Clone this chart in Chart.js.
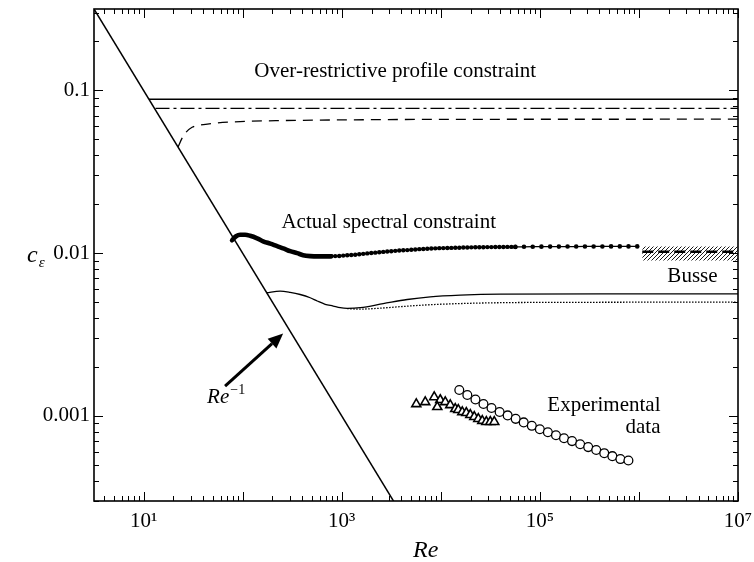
<!DOCTYPE html>
<html><head><meta charset="utf-8">
<script src="https://cdn.jsdelivr.net/npm/chart.js@4.4.0/dist/chart.umd.min.js"></script>
<style>html,body{margin:0;padding:0;background:#fff}#wrap{width:754px;height:562px}</style>
</head><body><div id="wrap"><canvas id="c" width="754" height="562"></canvas></div>
<script>
// ---- tick labels ----
const xTickValues = [1e1, 1e3, 1e5, 1e7];
const xTickLabels = ['10\u00B9', '10\u00B3', '10\u2075', '10\u2077'];
const yTickValues = [0.1, 0.01, 0.001];
const yTickLabels = ['0.1', '0.01', '0.001'];

// ---- Re^-1 line ----
const invRe = [1, 10000];
const invC = [1, 0.0001];

// ---- over-restrictive profile constraint family ----
const overRe = [11.35, 1e7];
const overC = [0.0881, 0.0881];
const dashDotRe = [13.2, 1e7];
const dashDotC = [0.0776, 0.0776];
const dashedRe = [22.3, 24.5, 26.9, 30.9, 37.2, 52.7, 94.4, 239, 1219, 12470, 1e7];
const dashedC = [0.0449, 0.0509, 0.0554, 0.0594, 0.0612, 0.0629, 0.0643, 0.0652, 0.0659, 0.0664, 0.0665];

// ---- actual spectral constraint ----
const specThickRe = [78.3, 85.9, 94.4, 106, 119, 140, 161, 190, 223, 262, 302, 355, 408, 481, 579, 714, 784];
const specThickC = [0.0120, 0.0127, 0.01297, 0.01297, 0.01279, 0.01234, 0.01183, 0.01143, 0.01103, 0.01065, 0.01028, 0.0100, 0.00972, 0.00959, 0.00955, 0.00955, 0.00956];
const specDenseRe = [783, 860, 944, 1036, 1137, 1248, 1369, 1503, 1649, 1810, 1987, 2180, 2393, 2626, 2882, 3163, 3472, 3810, 4182, 4589, 5037, 5528, 6067, 6659, 7308, 8020, 8802, 9661, 10600, 11640, 12770, 14020, 15380, 16880, 18530, 20330, 22320, 24490, 26880, 29500, 32380, 35540, 39000, 42800, 46980, 51560, 56590];
const specDenseC = [0.00956, 0.00959, 0.00961, 0.00966, 0.00970, 0.00974, 0.00978, 0.00985, 0.00990, 0.00996, 0.01001, 0.01007, 0.01013, 0.01018, 0.01024, 0.01028, 0.01033, 0.01037, 0.01041, 0.01044, 0.01049, 0.01053, 0.01058, 0.01061, 0.01064, 0.01067, 0.01070, 0.01073, 0.01074, 0.01076, 0.01077, 0.01079, 0.01080, 0.01082, 0.01083, 0.01085, 0.01086, 0.01088, 0.01088, 0.01089, 0.01089, 0.01091, 0.01091, 0.01091, 0.01092, 0.01092, 0.01092];
const specSparseRe = [56590, 69180, 84720, 103700, 127000, 155600, 190500, 232800, 285100, 349100, 427600, 523600, 641200, 785200, 961600];
const specSparseC = [0.01092, 0.01094, 0.01095, 0.01096, 0.01097, 0.01097, 0.01098, 0.01098, 0.01099, 0.01099, 0.01099, 0.01100, 0.01100, 0.01100, 0.01100];

// ---- lower solid / dotted curves ----
const lowRe = [175, 239, 302, 381, 481, 566, 681, 820, 966, 1137, 1538, 2626, 4588, 7836, 15740, 39900, 408000, 1e7];
const lowC = [0.00571, 0.00584, 0.00574, 0.00557, 0.00532, 0.00508, 0.00485, 0.00473, 0.00462, 0.00458, 0.00462, 0.00489, 0.00519, 0.00539, 0.00552, 0.00560, 0.00562, 0.00562];
const dotRe = [1137, 1538, 2449, 3900, 7836, 15740, 39900, 408000, 9.9e6];
const dotC = [0.00456, 0.00453, 0.00459, 0.00469, 0.00482, 0.00490, 0.00496, 0.00499, 0.00500];

// ---- Busse ----
const busseRe = [1.08e6, 1e7];
const busseUpper = [0.0110, 0.0110];
const busseLower = [0.0090, 0.0090];
const busseMid = [0.0102, 0.0102];

// ---- experimental data ----
const circRe = [15380, 18540, 22390, 26980, 32510, 39260, 47320, 57020, 68710, 82990, 100000, 120500, 145500, 175400, 211300, 255300, 307600, 370700, 446700, 539500, 650100, 783400];
const circC = [0.001442, 0.001343, 0.001262, 0.001183, 0.001119, 0.001057, 0.001007, 0.000959, 0.000912, 0.000869, 0.000828, 0.000793, 0.000760, 0.000729, 0.000700, 0.000670, 0.000643, 0.000617, 0.000590, 0.000566, 0.000543, 0.000532];
const triRe = [5662, 6970, 8590, 9880, 11100, 9220, 12470, 14000, 15030, 16490, 18110, 19870, 21790, 23930, 26240, 28840, 31620, 34670];
const triC = [0.001183, 0.001217, 0.001305, 0.001253, 0.001217, 0.001135, 0.001167, 0.001104, 0.001089, 0.001057, 0.001043, 0.001014, 0.000986, 0.000959, 0.000933, 0.000919, 0.000919, 0.000919];

const pts = (xs, ys) => xs.map((x, i) => ({x: x, y: ys[i]}));

const canvas = document.getElementById('c');
const ctx0 = canvas.getContext('2d');
function makeHatch() {
  const c = document.createElement('canvas');
  c.width = 4; c.height = 4;
  const g = c.getContext('2d');
  g.strokeStyle = '#000'; g.lineWidth = 0.9;
  g.beginPath();
  g.moveTo(0, 4); g.lineTo(4, 0);
  g.moveTo(-1, 1); g.lineTo(1, -1);
  g.moveTo(3, 5); g.lineTo(5, 3);
  g.stroke();
  return ctx0.createPattern(c, 'repeat');
}
const hatch = makeHatch();

const SERIF = '"Liberation Serif", "Times New Roman", serif';

const lineDs = (label, xs, ys, extra) => Object.assign({
  label: label, data: pts(xs, ys), showLine: true, borderColor: '#000',
  backgroundColor: '#000', borderWidth: 1.4, pointRadius: 0, pointHoverRadius: 0, fill: false
}, extra || {});

const decor = {
  id: 'decor',
  afterDraw(chart) {
    const ctx = chart.ctx, xs = chart.scales.x, ys = chart.scales.y, a = chart.chartArea;
    ctx.save();
    ctx.strokeStyle = '#000';
    // inward ticks
    ctx.lineWidth = 1;
    for (let k = 0; k <= 7; k++) {
      for (let m = 1; m <= 9; m++) {
        const v = m * Math.pow(10, k);
        if (v < xs.min || v > xs.max) continue;
        const px = Math.round(xs.getPixelForValue(v)) + 0.5;
        const len = m === 1 ? 9 : 5;
        ctx.beginPath();
        ctx.moveTo(px, a.bottom); ctx.lineTo(px, a.bottom - len);
        ctx.moveTo(px, a.top); ctx.lineTo(px, a.top + len);
        ctx.stroke();
      }
    }
    for (let k = -4; k <= 0; k++) {
      for (let m = 1; m <= 9; m++) {
        const v = m * Math.pow(10, k);
        if (v < ys.min || v > ys.max) continue;
        const py = Math.round(ys.getPixelForValue(v)) + 0.5;
        const len = m === 1 ? 9 : 5;
        ctx.beginPath();
        ctx.moveTo(a.left, py); ctx.lineTo(a.left + len, py);
        ctx.moveTo(a.right, py); ctx.lineTo(a.right - len, py);
        ctx.stroke();
      }
    }
    // frame
    ctx.lineWidth = 1.6;
    ctx.strokeRect(a.left, a.top, a.right - a.left, a.bottom - a.top);

    // text helper
    ctx.fillStyle = '#000';
    ctx.textBaseline = 'alphabetic';
    const txt = (s, re, c, align, font) => {
      ctx.font = font; ctx.textAlign = align;
      ctx.fillText(s, xs.getPixelForValue(re), ys.getPixelForValue(c));
    };
    const f21 = '21px ' + SERIF;
    txt('Over-restrictive profile constraint', 3470, 0.12, 'center', f21);
    txt('Actual spectral constraint', 2985, 0.0143, 'center', f21);
    txt('Busse', 3.47e6, 0.00665, 'center', f21);
    txt('Experimental', 1.65e6, 0.001072, 'right', f21);
    txt('data', 1.65e6, 0.000787, 'right', f21);

    // Re^-1 label
    const rx = xs.getPixelForValue(43.8), ry = ys.getPixelForValue(0.0012);
    ctx.textAlign = 'left';
    ctx.font = 'italic 21px ' + SERIF;
    ctx.fillText('Re', rx, ry);
    const rw = ctx.measureText('Re').width;
    ctx.font = '14px ' + SERIF;
    ctx.fillText('\u22121', rx + rw + 1, ry - 9);

    // arrow
    const tx = xs.getPixelForValue(66.5), ty = ys.getPixelForValue(0.001524);
    const hx = xs.getPixelForValue(256.5), hy = ys.getPixelForValue(0.003206);
    const ang = Math.atan2(hy - ty, hx - tx);
    const hl = 15, hw = 6.5;
    const bx = hx - hl * Math.cos(ang), by = hy - hl * Math.sin(ang);
    ctx.lineWidth = 3;
    ctx.beginPath(); ctx.moveTo(tx, ty); ctx.lineTo(bx, by); ctx.stroke();
    ctx.beginPath();
    ctx.moveTo(hx, hy);
    ctx.lineTo(bx + hw * Math.sin(ang), by - hw * Math.cos(ang));
    ctx.lineTo(bx - hw * Math.sin(ang), by + hw * Math.cos(ang));
    ctx.closePath(); ctx.fill();

    // axis titles
    ctx.font = 'italic 24px ' + SERIF;
    ctx.textAlign = 'center';
    ctx.fillText('Re', a.left + (a.right - a.left) * 0.515, 557);
    ctx.textAlign = 'left';
    ctx.font = 'italic 24px ' + SERIF;
    ctx.fillText('c', 27, 262);
    const cw = ctx.measureText('c').width;
    ctx.font = 'italic 15px ' + SERIF;
    ctx.fillText('\u03B5', 27 + cw + 1, 267);
    ctx.restore();
  }
};

new Chart(canvas, {
  type: 'scatter',
  data: {
    datasets: [
      lineDs('Busse upper', busseRe, busseUpper, {borderWidth: 0, fill: '+1', backgroundColor: hatch}),
      lineDs('Busse lower', busseRe, busseLower, {borderWidth: 0}),
      lineDs('Busse', busseRe, busseMid, {borderWidth: 2.4, borderDash: [11, 5]}),
      lineDs('Re^-1', invRe, invC, {borderWidth: 1.5}),
      lineDs('Over-restrictive', overRe, overC, {borderWidth: 1.5}),
      lineDs('Over-restrictive dash-dot', dashDotRe, dashDotC, {borderWidth: 1.3, borderDash: [14, 4, 3, 4]}),
      lineDs('Over-restrictive dashed', dashedRe, dashedC, {borderWidth: 1.3, borderDash: [10, 7], cubicInterpolationMode: 'monotone'}),
      lineDs('Spectral thick', specThickRe, specThickC, {borderWidth: 4.6, cubicInterpolationMode: 'monotone', borderCapStyle: 'round'}),
      lineDs('Spectral dense', specDenseRe, specDenseC, {borderWidth: 1.6, pointRadius: 2.2, pointBorderWidth: 0, pointBackgroundColor: '#000'}),
      lineDs('Spectral sparse', specSparseRe, specSparseC, {borderWidth: 1.2, pointRadius: 2.3, pointBorderWidth: 0, pointBackgroundColor: '#000'}),
      lineDs('Lower solid', lowRe, lowC, {borderWidth: 1.3, cubicInterpolationMode: 'monotone'}),
      lineDs('Lower dotted', dotRe, dotC, {borderWidth: 1.3, borderDash: [1.5, 1.5], cubicInterpolationMode: 'monotone'}),
      {label: 'Triangles', data: pts(triRe, triC), showLine: false, pointStyle: 'triangle', pointRadius: 5.2, pointHoverRadius: 5.2,
       pointBorderWidth: 1.6, borderColor: '#000', pointBorderColor: '#000', pointBackgroundColor: '#fff', backgroundColor: '#fff'},
      {label: 'Circles', data: pts(circRe, circC), showLine: false, pointStyle: 'circle', pointRadius: 4.4, pointHoverRadius: 4.4,
       pointBorderWidth: 1.3, borderColor: '#000', pointBorderColor: '#000', pointBackgroundColor: '#fff', backgroundColor: '#fff'},
      {label: 'Circle centres', data: pts(circRe, circC), showLine: false, pointStyle: 'circle', pointRadius: 0.9, pointHoverRadius: 0.9,
       pointBorderWidth: 0, pointBackgroundColor: '#000', backgroundColor: '#000'}
    ]
  },
  options: {
    responsive: false,
    devicePixelRatio: 1,
    animation: false,
    events: [],
    layout: {padding: {left: 0, right: 16, top: 9, bottom: 0}},
    plugins: {legend: {display: false}, tooltip: {enabled: false}},
    scales: {
      x: {
        type: 'logarithmic', position: 'bottom', min: Math.pow(10, 0.5), max: 1e7,
        grid: {display: false, drawTicks: false}, border: {display: false},
        afterBuildTicks: s => { s.ticks = xTickValues.map(v => ({value: v})); },
        afterFit: s => { s.height = 61; s.paddingLeft = 0; s.paddingRight = 0; },
        ticks: {autoSkip: false, maxRotation: 0, padding: 8, color: '#000',
          font: {family: SERIF, size: 21},
          callback: (v, i) => xTickLabels[i]}
      },
      y: {
        type: 'logarithmic', position: 'left', min: Math.pow(10, -3.5), max: Math.pow(10, -0.5),
        grid: {display: false, drawTicks: false}, border: {display: false},
        afterBuildTicks: s => { s.ticks = yTickValues.map(v => ({value: v})); },
        afterFit: s => { s.width = 94; s.paddingTop = 0; s.paddingBottom = 0; },
        ticks: {autoSkip: false, padding: 4, color: '#000',
          font: {family: SERIF, size: 21},
          callback: (v, i) => yTickLabels[i]}
      }
    }
  },
  plugins: [decor]
});
</script></body></html>
